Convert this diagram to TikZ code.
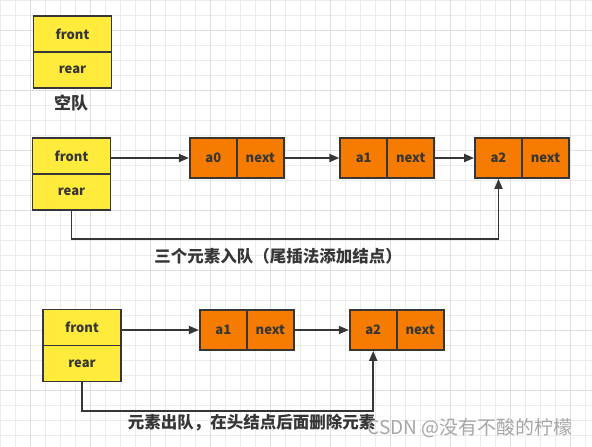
\documentclass[tikz,border=0pt]{standalone}
\usepackage{fontspec}
\setmainfont{Noto Sans CJK SC}
\usetikzlibrary{arrows.meta}
\definecolor{qyellow}{HTML}{FFEB3B}
\definecolor{qorange}{HTML}{F57C00}
\definecolor{qline}{HTML}{363636}
\definecolor{qgrid}{HTML}{EBEBEB}
\definecolor{qgridmajor}{HTML}{DEDEDE}

\begin{document}
\begin{tikzpicture}[x=1pt,y=-1pt,
            qbox/.style={draw=qline,line width=1.8pt,fill=qyellow,minimum width=78pt,minimum height=36pt,inner sep=0pt,font=\fontsize{13}{13}\selectfont\bfseries,text=qline},
            cell/.style={draw=qline,line width=1.8pt,fill=qorange,minimum width=47pt,minimum height=40pt,inner sep=0pt,font=\fontsize{13}{13}\selectfont\bfseries,text=qline},
            arr/.style={-{Triangle[length=10pt,width=8pt]},line width=1.8pt,qline},
            caption/.style={font=\fontsize{16.5}{16.5}\selectfont\bfseries,text=qline}]
            \useasboundingbox (0,0) rectangle (592,447);
            \fill [white] (0,0) rectangle (592,447);
            % grid
            \foreach \i in {0,15,...,585} \draw [qgrid,line width=0.9pt] (\i,0) -- (\i,447);
            \foreach \j in {0,15,...,435} \draw [qgrid,line width=0.9pt] (0,\j) -- (592,\j);
            \foreach \i in {30,90,...,570} \draw [qgridmajor,line width=0.9pt] (\i,0) -- (\i,447);
            \foreach \j in {30,90,...,390} \draw [qgridmajor,line width=0.9pt] (0,\j) -- (592,\j);
            % empty queue
            \node [qbox] (front0) at (72.5,34) {front};
            \node [qbox] (rear0) at (72.5,70) {rear};
            \node [font=\fontsize{17}{17}\selectfont\bfseries,text=qline] (empty) at (71,103) {空队};
            % three elements in
            \node [qbox] (front1) at (71.5,156) {front};
            \node [qbox] (rear1) at (71.5,192) {rear};
            \node [cell] (a0) at (213.3,158) {a0};
            \node [cell] (a0n) at (260.3,158) {next};
            \node [cell] (a1) at (363.7,158) {a1};
            \node [cell] (a1n) at (410.7,158) {next};
            \node [cell] (a2) at (498.5,158) {a2};
            \node [cell] (a2n) at (545.5,158) {next};
            \draw [arr] (front1.east |- a0.west) -- (a0.west);
            \draw [arr] (a0n.east) -- (a1.west);
            \draw [arr] (a1n.east) -- (a2.west);
            \draw [arr] (rear1.south) -- ++(0,28) -| (a2.south);
            \node [caption] (cap1) at (278,256) {三个元素入队（尾插法添加结点）};
            % one element out
            \node [qbox] (front2) at (82,327.5) {front};
            \node [qbox] (rear2) at (82,363.5) {rear};
            \node [cell] (b1) at (223.3,330) {a1};
            \node [cell] (b1n) at (270.3,330) {next};
            \node [cell] (b2) at (373.2,330) {a2};
            \node [cell] (b2n) at (420.2,330) {next};
            \draw [arr] (front2.east |- b1.west) -- (b1.west);
            \draw [arr] (b1n.east) -- (b2.west);
            \draw [arr] (rear2.south) -- ++(0,28.5) -| (b2.south);
            \node [caption] (cap2) at (251.5,423) {元素出队，在头结点后面删除元素};
            \node [anchor=west,font=\fontsize{19}{19}\selectfont,text=gray!70] (mark) at (364,428) {CSDN @没有不酸的柠檬};
        \end{tikzpicture}
\end{document}
